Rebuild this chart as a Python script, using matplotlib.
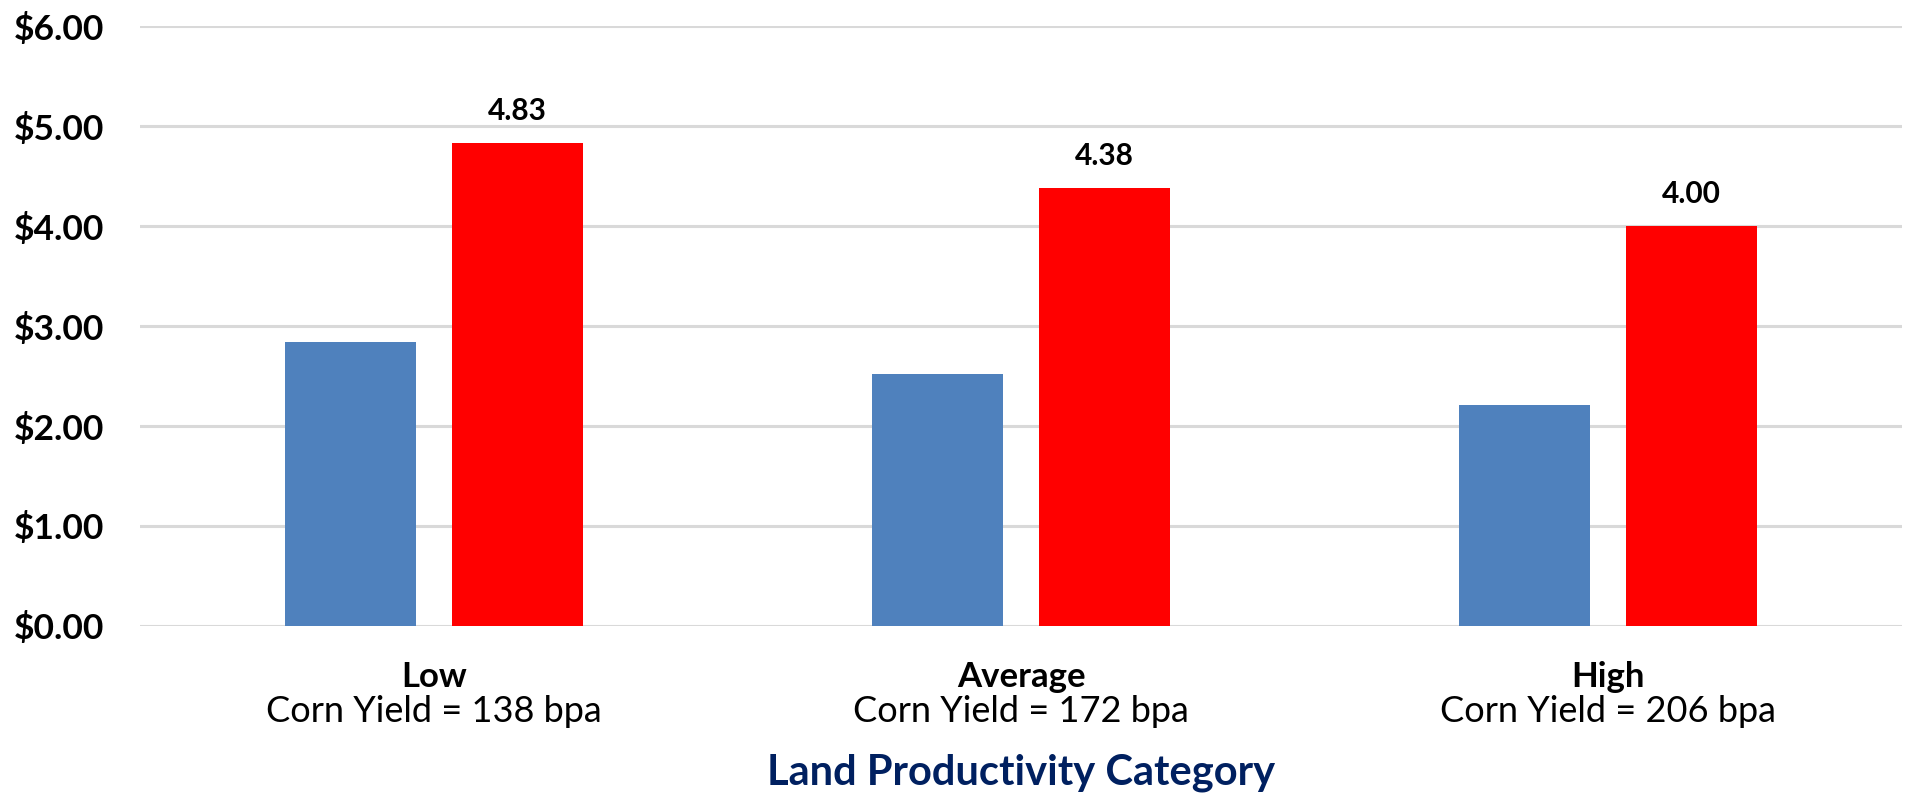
import numpy as np
import matplotlib.pyplot as plt

# data
categories = ['Low', 'Average', 'High']
yield_labels = ['Corn Yield = 138 bpa', 'Corn Yield = 172 bpa', 'Corn Yield = 206 bpa']
blue_values = [2.84, 2.52, 2.21]
red_values = [4.83, 4.38, 4.00]
y_ticks = [0, 1, 2, 3, 4, 5, 6]

plt.rcParams['font.family'] = ['Lato', 'DejaVu Sans']

fig = plt.figure(figsize=(19.12, 7.95), dpi=100)
ax = fig.add_axes([0.0732, 0.2126, 0.9216, 0.7546])

x = np.arange(len(categories))
width = 0.223
offset = 0.142

ax.bar(x - offset, blue_values, width, color='#4F81BD', zorder=3)
red_bars = ax.bar(x + offset, red_values, width, color='#FF0000', zorder=3)

# value labels on red bars only
for rect, v in zip(red_bars, red_values):
    ax.annotate('%.2f' % v, (rect.get_x() + rect.get_width() / 2, v),
                xytext=(0, 13), textcoords='offset points',
                ha='center', va='bottom', fontsize=21.5, fontweight='bold')

ax.set_xlim(-0.5, 2.5)
ax.set_ylim(0, 6)
ax.set_yticks(y_ticks)
ax.set_yticklabels(['$%.2f' % t for t in y_ticks], fontsize=25.5, fontweight='bold')
ax.tick_params(axis='y', length=0, pad=26)
ax.set_xticks([])

ax.grid(axis='y', color='#D9D9D9', linewidth=2.2, zorder=0)
for s in ax.spines.values():
    s.set_visible(False)

# category labels (two lines, bold + regular)
trans = ax.get_xaxis_transform()
for i in range(len(categories)):
    ax.text(x[i], -0.085, categories[i], transform=trans, ha='center', va='center',
            fontsize=25, fontweight='bold')
    ax.text(x[i], -0.142, yield_labels[i], transform=trans, ha='center', va='center',
            fontsize=26)

ax.text(1, -0.245, 'Land Productivity Category', transform=trans, ha='center', va='center',
        fontsize=30, fontweight='bold', color='#002060')

fig.savefig('out.png', dpi=100)
